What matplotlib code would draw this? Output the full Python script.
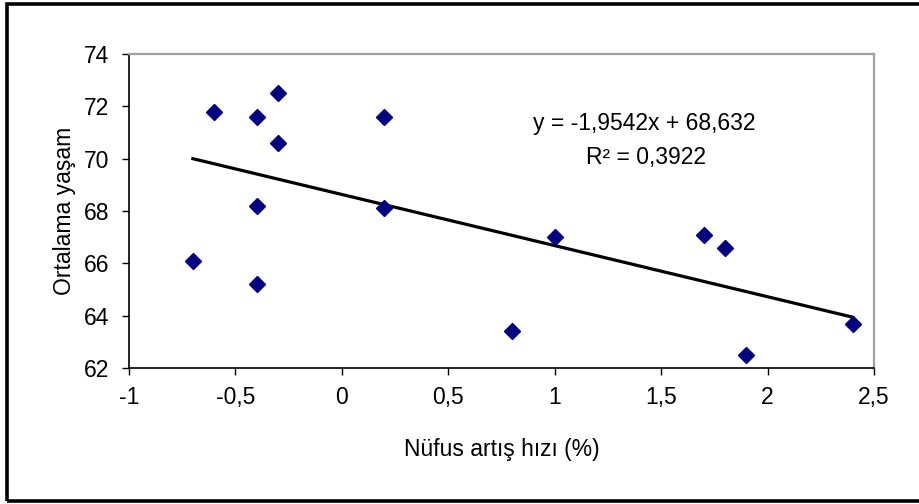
import numpy as np
import matplotlib
matplotlib.use('Agg')
import matplotlib.pyplot as plt
from matplotlib.patches import Rectangle
from matplotlib.ticker import FuncFormatter

plt.rcParams['font.family'] = ['Liberation Sans', 'DejaVu Sans']

# data
artis_hizi = [-0.7, -0.6, -0.4, -0.3, -0.3, -0.4, -0.4, 0.2, 0.2, 1.0, 0.8, 1.7, 1.8, 1.9, 2.4]
ortalama_yasam = [66.1, 71.8, 71.6, 72.5, 70.6, 68.2, 65.2, 71.6, 68.1, 67.0, 63.4, 67.1, 66.6, 62.5, 63.7]
egim = -1.9542
kesisim = 68.632
denklem = "y = -1,9542x + 68,632"
r2_metni = "R² = 0,3922"

fs = 16.5

fig = plt.figure(figsize=(9.19, 5.04), dpi=100)
ax = fig.add_axes([129 / 919, 1 - 368 / 504, (874 - 129) / 919, (368 - 54) / 504])

ax.plot(artis_hizi, ortalama_yasam, linestyle='none', marker='D', markersize=8,
        color='#000080', zorder=3)

# trend line over data range
xs = np.array([min(artis_hizi), max(artis_hizi)])
ax.plot(xs, egim * xs + kesisim, color='black', linewidth=2.3, zorder=2)

ax.text(1.42, 71.33, denklem, ha='center', va='center', fontsize=fs)
ax.text(1.43, 70.03, r2_metni, ha='center', va='center', fontsize=fs)

ax.set_xlim(-1, 2.5)
ax.set_ylim(62, 74)
ax.set_xticks(np.arange(-1, 2.51, 0.5))
ax.set_yticks(np.arange(62, 74.1, 2))
ax.xaxis.set_major_formatter(FuncFormatter(lambda v, p: f"{v:g}".replace('.', ',')))
ax.tick_params(direction='out', length=5, width=1, labelsize=fs, color='black')
ax.tick_params(axis='x', pad=8)
ax.tick_params(axis='y', pad=9)

for s in ['left', 'bottom']:
    ax.spines[s].set_color('black')
    ax.spines[s].set_linewidth(1.2)
for s in ['top', 'right']:
    ax.spines[s].set_color('#a0a0a0')
    ax.spines[s].set_linewidth(1.6)

ax.set_xlabel("Nüfus artış hızı (%)", fontsize=fs, labelpad=21)
ax.set_ylabel("Ortalama yaşam", fontsize=fs, labelpad=6)

# outer chart border
fig.patches.append(Rectangle((6.5 / 919, 1 - 501 / 504), 1.1, 497 / 504,
                             transform=fig.transFigure, fill=False,
                             edgecolor='black', linewidth=2.6))

fig.savefig('out.png', dpi=100)
